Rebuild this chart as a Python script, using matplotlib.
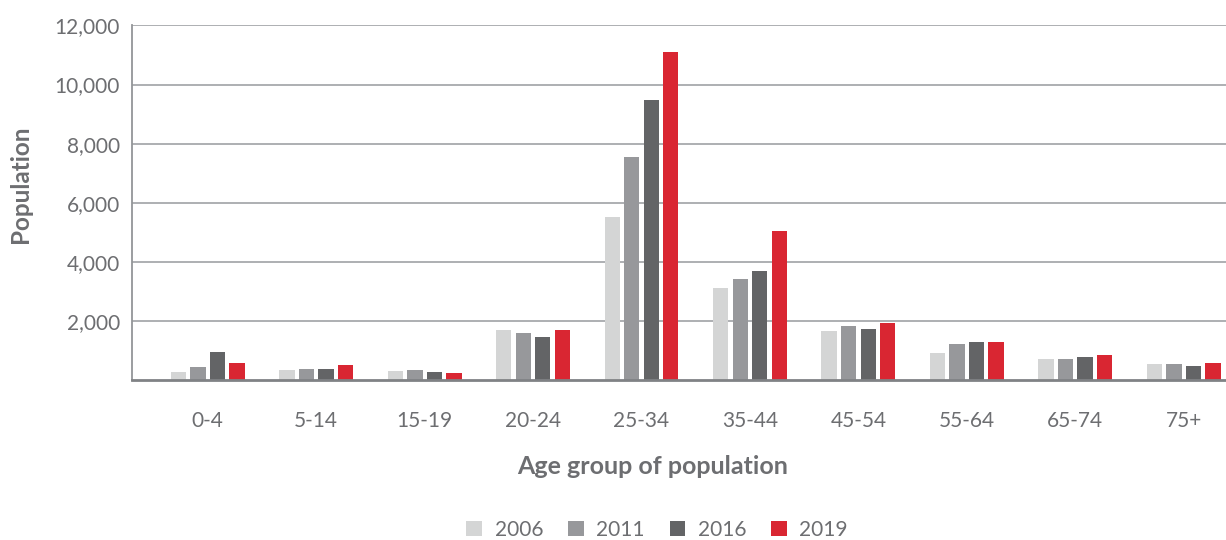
import numpy as np
import matplotlib.pyplot as plt

age_groups = ['0-4', '5-14', '15-19', '20-24', '25-34', '35-44', '45-54', '55-64', '65-74', '75+']
years = ['2006', '2011', '2016', '2019']
pop_2006 = [277, 343, 323, 1706, 5525, 3123, 1674, 923, 703, 560]
pop_2011 = [429, 391, 343, 1591, 7538, 3423, 1837, 1237, 703, 560]
pop_2016 = [943, 371, 286, 1466, 9485, 3690, 1743, 1294, 780, 494]
pop_2019 = [571, 506, 249, 1686, 11111, 5061, 1931, 1294, 837, 580]
colors = ['#d4d5d5', '#97989b', '#636466', '#d92632']

txt = '#6d6e71'
plt.rcParams['font.family'] = ['Lato', 'DejaVu Sans']

fig = plt.figure(figsize=(12.26, 5.4), dpi=100)
ax = fig.add_axes([0.108, 0.296, 0.892, 0.657])

x = np.arange(len(age_groups))
pitch = 0.18
for i, vals in enumerate([pop_2006, pop_2011, pop_2016, pop_2019]):
    ax.bar(x + (i - 1.5) * pitch, vals, width=0.141, color=colors[i],
           label=years[i], zorder=3)

ax.set_xlim(-0.695, 9.39)
ax.set_ylim(0, 12000)
ax.set_yticks([2000, 4000, 6000, 8000, 10000, 12000])
ax.set_yticklabels(['2,000', '4,000', '6,000', '8,000', '10,000', '12,000'])
ax.set_xticks(x)
ax.set_xticklabels(age_groups)
ax.tick_params(axis='both', length=0, labelsize=15, labelcolor=txt)
ax.tick_params(axis='y', pad=9)
ax.tick_params(axis='x', pad=22)
ax.grid(axis='y', color='#a7a9ac', linewidth=1.3, zorder=0)

for s in ['top', 'right']:
    ax.spines[s].set_visible(False)
ax.spines['left'].set_color('#939598')
ax.spines['left'].set_linewidth(1.3)
ax.spines['bottom'].set_color('#808285')
ax.spines['bottom'].set_linewidth(2)
ax.spines['bottom'].set_zorder(4)

fig.text(0.532, 1 - 467 / 540, 'Age group of population', ha='center', va='center',
         fontsize=18, fontweight='bold', color=txt)
fig.text(0.017, 1 - 184 / 540, 'Population', ha='center', va='center', rotation=90,
         fontsize=17.5, fontweight='bold', color=txt)

fig.legend(loc='center', bbox_to_anchor=(0.536, 1 - 530 / 540), ncol=4, frameon=False,
           fontsize=15, labelcolor=txt, handlelength=0.75, handleheight=0.75,
           handletextpad=0.6, columnspacing=1.2)

fig.savefig('out.png', dpi=100)
